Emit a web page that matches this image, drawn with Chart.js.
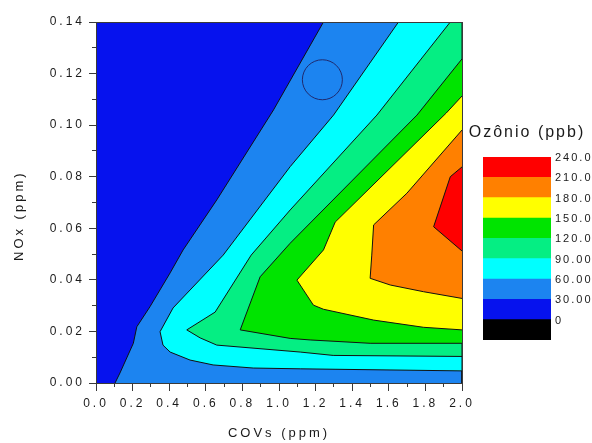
<!DOCTYPE html>
<html><head><meta charset="utf-8">
<script src="https://cdn.jsdelivr.net/npm/chart.js@4.4.1/dist/chart.umd.min.js"></script>
<style>
html,body{margin:0;padding:0;background:#fff;}
#wrap{position:relative;width:592px;height:443px;}
#main{position:absolute;left:0;top:0;}
#bar{position:absolute;left:462px;top:0;}
</style></head><body>
<div id="wrap"><canvas id="main" width="592" height="443"></canvas><canvas id="bar" width="130" height="443"></canvas></div>
<script>
// ---------- data (x = COVs ppm, y = NOx ppm) ----------
const xTickLabels = ['0.0','0.2','0.4','0.6','0.8','1.0','1.2','1.4','1.6','1.8','2.0'];
const yTickLabels = ['0.00','0.02','0.04','0.06','0.08','0.10','0.12','0.14'];

// contour levels (ppb) and the region where ozone >= level, as polygons in data units
const contourLevels = [30, 60, 90, 120, 150, 180, 210];
const plotRect = [[0,0],[0,0.14],[2,0.14],[2,0]];
const region30 = [[0.104,0],[0.131,0.0039],[0.204,0.0154],[0.223,0.0218],[0.295,0.0296],[0.405,0.0427],[0.476,0.0516],[0.660,0.0710],[0.970,0.1059],[1.243,0.14],[2.0,0.14],[2.0,0]];
const region60 = [[1.653,0.14],[1.298,0.1039],[1.061,0.0839],[0.695,0.0496],[0.421,0.0291],[0.350,0.0199],[0.366,0.0147],[0.405,0.0120],[0.514,0.0089],[0.640,0.0070],[0.859,0.0058],[1.116,0.0055],[2.0,0.0047],[2.0,0.14]];
const region90 = [[1.936,0.14],[1.535,0.1039],[1.061,0.0671],[0.848,0.0496],[0.651,0.0275],[0.496,0.0206],[0.569,0.0175],[0.660,0.0147],[1.116,0.0120],[1.296,0.0107],[2.0,0.0103],[2.0,0.14]];
const region120 = [[2.0,0.1257],[1.754,0.1039],[1.061,0.0542],[0.897,0.0412],[0.788,0.0206],[1.061,0.0173],[1.170,0.0167],[1.498,0.0154],[2.0,0.0154]];
const region150 = [[2.0,0.1113],[1.914,0.1047],[1.307,0.0624],[1.243,0.0516],[1.098,0.0399],[1.188,0.0302],[1.243,0.0286],[1.517,0.0244],[1.790,0.0216],[2.0,0.0206]];
const region180 = [[2.0,0.0981],[1.699,0.0736],[1.517,0.0613],[1.507,0.0496],[1.498,0.0406],[1.608,0.0380],[1.790,0.0354],[2.0,0.0328]];
const region210 = [[2.0,0.0838],[1.936,0.0800],[1.845,0.0606],[2.0,0.0512]];
const circleMark = [1.237, 0.1176];

// colour bar
const legendLevels = [0, 30, 60, 90, 120, 150, 180, 210, 240];
const legendLabels = ['0','30.00','60.00','90.00','120.0','150.0','180.0','210.0','240.0'];

// ---------- styles ----------
const zoneColors = ['#0612EE','#1C84F0','#00FFFF','#05EE83','#00E400','#FFFF00','#FF8000','#FF0000'];
const legendColors = ['#000000'].concat(zoneColors);
const FONT = "'Liberation Sans', Arial, sans-serif";
const ink = '#1a1a1a';
const frame = '#3a3a3a';
const lineColor = '#111111';

const spacing = px => ({
  id: 'letterSpacing',
  beforeUpdate(c){ c.ctx.letterSpacing = px; },
  beforeLayout(c){ c.ctx.letterSpacing = px; },
  beforeDraw(c){ c.ctx.letterSpacing = px; }
});

const toPts = arr => arr.map(p => ({x: p[0], y: p[1]}));
const regions = [region30, region60, region90, region120, region150, region180, region210];

const datasets = [{
  label: '0', data: toPts(plotRect), showLine: true, fill: 'shape',
  backgroundColor: zoneColors[0], borderWidth: 0, pointRadius: 0, order: 100
}];
regions.forEach((poly, i) => datasets.push({
  label: String(contourLevels[i]), data: toPts(poly), showLine: true, fill: 'shape', tension: 0,
  backgroundColor: zoneColors[i + 1], borderColor: lineColor, borderWidth: 1,
  pointRadius: 0, order: 90 - i * 10
}));
datasets.push({
  label: 'circle', data: [{x: circleMark[0], y: circleMark[1]}], showLine: false,
  pointRadius: 20, pointBackgroundColor: 'rgba(0,0,0,0)', pointBorderColor: '#1f2a6e',
  pointBorderWidth: 1, order: -10
});

const frameAxis = (pos) => ({
  type: 'linear', position: pos,
  min: pos === 'top' ? 0 : 0, max: pos === 'top' ? 2 : 0.14,
  ticks: {display: false},
  grid: {drawOnChartArea: false, drawTicks: false},
  border: {display: true, color: frame, width: 1, z: 1},
  afterFit: s => { if (pos === 'top') s.height = 0; else s.width = 0; }
});

new Chart(document.getElementById('main'), {
  type: 'scatter',
  data: {datasets},
  plugins: [spacing('3px')],
  options: {
    responsive: false, animation: false, events: [],
    layout: {padding: {left: 0, top: 22, right: 130, bottom: 0}},
    plugins: {legend: {display: false}, tooltip: {enabled: false}, title: {display: false}},
    scales: {
      x: {
        type: 'linear', position: 'bottom', min: 0, max: 2, weight: 1,
        ticks: {stepSize: 0.2, autoSkip: false, maxRotation: 0, padding: 5, color: ink,
                font: {family: FONT, size: 12}, callback: (v, i) => xTickLabels[i]},
        grid: {drawOnChartArea: false, tickLength: 8, tickColor: frame, tickWidth: 1},
        border: {display: true, color: frame, width: 1, z: 1},
        title: {display: true, text: 'COVs (ppm)', color: ink, font: {family: FONT, size: 13},
                padding: {top: 0, bottom: 2}},
        afterFit: s => { s.height = 60; }
      },
      xMinor: {
        type: 'linear', position: 'bottom', min: 0, max: 2, weight: 0,
        ticks: {display: false, stepSize: 0.1, autoSkip: false},
        grid: {drawOnChartArea: false, tickLength: 4, tickColor: frame, tickWidth: 1},
        border: {display: false},
        afterFit: s => { s.height = 0; }
      },
      y: {
        type: 'linear', position: 'left', min: 0, max: 0.14, weight: 1,
        ticks: {stepSize: 0.02, autoSkip: false, padding: 4, color: ink,
                font: {family: FONT, size: 12}, callback: (v, i) => yTickLabels[i]},
        grid: {drawOnChartArea: false, tickLength: 7, tickColor: frame, tickWidth: 1},
        border: {display: true, color: frame, width: 1, z: 1},
        title: {display: true, text: 'NOx (ppm)    ', color: ink, font: {family: FONT, size: 13},
                padding: {top: 12, bottom: 0}},
        afterFit: s => { s.width = 96; }
      },
      yMinor: {
        type: 'linear', position: 'left', min: 0, max: 0.14, weight: 0,
        ticks: {display: false, stepSize: 0.01, autoSkip: false},
        grid: {drawOnChartArea: false, tickLength: 4, tickColor: frame, tickWidth: 1},
        border: {display: false},
        afterFit: s => { s.width = 0; }
      },
      xTop: frameAxis('top'),
      yRight: frameAxis('right')
    }
  }
});

new Chart(document.getElementById('bar'), {
  type: 'bar',
  data: {
    labels: [''],
    datasets: legendColors.map((c, i) => ({
      label: legendLabels[i],
      data: [[i === 0 ? legendLevels[0] - 30 : legendLevels[i - 1], legendLevels[i]]],
      backgroundColor: c, borderWidth: 0, grouped: false,
      barPercentage: 1, categoryPercentage: 1
    }))
  },
  plugins: [spacing('2px')],
  options: {
    responsive: false, animation: false, events: [],
    layout: {padding: {left: 0, right: 0, top: 0, bottom: 103}},
    plugins: {
      legend: {display: false}, tooltip: {enabled: false},
      title: {display: true, text: 'Ozônio (ppb)', color: ink,
              font: {family: FONT, size: 16, weight: 'normal'},
              padding: {top: 123.4, bottom: 14.4}}
    },
    scales: {
      x: {display: false},
      y: {
        type: 'linear', position: 'right', min: -30, max: 240,
        ticks: {stepSize: 30, autoSkip: false, padding: 4, labelOffset: 1, color: ink,
                font: {family: FONT, size: 11},
                callback: v => { const k = legendLevels.indexOf(v); return k < 0 ? '' : legendLabels[k]; }},
        grid: {display: false, drawTicks: false},
        border: {display: false},
        afterFit: s => { s.width = 41; }
      },
      yPad: {
        type: 'linear', position: 'left',
        ticks: {display: false}, grid: {display: false, drawTicks: false}, border: {display: false},
        afterFit: s => { s.width = 21; }
      }
    }
  }
});
</script></body></html>
